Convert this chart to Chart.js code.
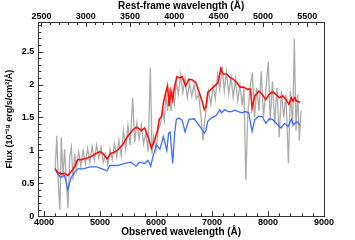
<!DOCTYPE html>
<html>
<head>
<meta charset="utf-8">
<script src="https://cdn.jsdelivr.net/npm/chart.js@4"></script>
<style>
  html, body { margin: 0; padding: 0; background: #fff; }
  #wrap { width: 355px; height: 240px; }
</style>
</head>
<body>
<div id="wrap"><canvas id="specChart"></canvas></div>
<script>
// observed wavelength (A) and flux (1e-18 erg/s/cm2/A)
const redWave = [4201,4243,4305,4366,4426,4488,4548,4590,4609,4671,4762,4854,4945,5005,5066,5128,5188,5250,5311,5402,5494,5585,5645,5706,5737,5797,5859,5919,5980,6029,6060,6102,6133,6162,6206,6236,6267,6298,6334,6376,6420,6468,6528,6590,6651,6711,6773,6833,6864,6894,6925,6985,7047,7108,7157,7199,7259,7321,7382,7442,7504,7565,7625,7687,7716,7766,7839,7899,7961,8022,8082,8144,8204,8265,8327,8374,8418,8448,8479,8509,8570];
const redFlux = [0.72,0.67,0.64,0.65,0.62,0.68,0.75,0.84,0.86,0.86,0.88,0.91,0.96,0.98,0.94,0.87,0.95,0.97,1.00,1.08,1.21,1.31,1.35,1.33,1.30,1.34,1.21,1.03,1.16,1.31,1.47,1.52,1.72,1.83,1.98,1.67,1.90,1.77,1.98,2.12,2.10,2.12,1.98,2.08,2.07,2.03,1.88,1.72,1.62,1.67,1.88,1.93,1.98,2.03,2.24,2.16,2.16,2.11,2.08,2.03,1.96,1.96,1.93,1.93,1.64,1.83,1.90,1.85,1.77,1.85,1.89,1.85,1.80,1.83,1.77,1.70,1.80,1.75,1.80,1.75,1.73];

const blueWave = [4201,4243,4305,4366,4397,4426,4457,4488,4548,4609,4700,4823,4945,5036,5128,5175,5311,5431,5554,5645,5706,5797,5859,5907,5950,6010,6071,6133,6194,6225,6254,6298,6334,6364,6408,6468,6520,6590,6682,6742,6802,6864,6894,6925,6985,7077,7139,7168,7230,7290,7351,7413,7473,7534,7596,7656,7716,7766,7839,7899,7961,8022,8082,8173,8235,8296,8357,8418,8460,8509,8570];
const blueFlux = [0.72,0.64,0.59,0.62,0.52,0.40,0.50,0.59,0.67,0.72,0.72,0.75,0.75,0.72,0.69,0.77,0.77,0.80,0.82,0.76,0.82,0.80,0.85,0.76,0.92,1.08,1.02,1.21,1.00,1.26,1.28,0.80,1.26,1.47,1.49,1.46,1.28,1.47,1.48,1.41,1.34,1.26,1.31,1.44,1.49,1.53,1.62,1.57,1.62,1.59,1.59,1.61,1.59,1.57,1.59,1.57,1.29,1.47,1.52,1.51,1.41,1.48,1.47,1.39,1.34,1.41,1.36,1.47,1.39,1.44,1.39];

const grayWave = [
  4200,4230,4260,4285,4310,4340,4370,4400,4430,4460,
  4490,4520,4550,4580,4620,4660,4700,4740,4780,4820,
  4860,4900,4940,4980,5020,5060,5100,5140,5180,5220,
  5260,5300,5340,5380,5420,5460,5500,5540,5585,5620,
  5660,5700,5740,5780,5820,5860,5900,5930,5960,6000,
  6040,6080,6120,6150,6180,6210,6240,6270,6300,6330,
  6360,6400,6440,6480,6520,6560,6600,6640,6680,6720,
  6760,6800,6840,6870,6900,6940,6980,7020,7060,7100,
  7140,7180,7220,7260,7300,7340,7380,7420,7460,7500,
  7540,7570,7605,7640,7680,7720,7760,7800,7840,7880,
  7920,7960,8005,8040,8080,8120,8160,8200,8240,8280,
  8320,8365,8400,8440,8470,8500,8530,8560,8590];
const grayFlux = [
  0.70,1.22,0.45,0.10,1.20,0.60,1.02,0.55,0.12,0.90,
  1.05,0.55,0.95,0.70,0.98,0.76,1.00,0.80,1.03,0.82,
  1.06,0.85,1.08,0.88,1.05,0.82,0.95,0.78,1.02,0.86,
  1.10,0.90,1.15,0.92,1.30,1.02,1.38,1.08,1.80,1.12,
  1.42,1.18,1.38,1.10,1.28,0.98,2.25,0.95,1.22,1.00,
  1.30,1.40,1.60,1.45,1.85,1.60,1.95,1.60,1.88,1.70,
  2.05,1.85,2.15,1.88,2.10,1.80,2.02,1.82,2.00,1.78,
  1.85,1.55,1.15,1.45,1.65,1.90,1.70,1.98,1.78,2.15,
  1.92,2.28,1.90,2.20,1.85,2.12,1.80,2.08,1.75,2.00,
  1.68,1.95,0.55,1.55,1.95,2.18,1.50,1.95,1.60,2.20,
  1.50,1.90,2.35,1.45,2.05,1.40,1.95,1.20,1.90,1.50,
  1.85,0.80,1.90,1.35,2.70,1.30,1.85,1.15,1.60];

// axis tick labels
const obsTicks = [4000, 5000, 6000, 7000, 8000, 9000];
const restTicks = [2500, 3000, 3500, 4000, 4500, 5000, 5500];
const fluxTicks = [0, 0.5, 1, 1.5, 2, 2.5];

const onePlusZ = 1.582;
const xMin = 3900, xMax = 9000;

const pts = (w, f) => w.map((v, i) => ({x: v, y: f[i]}));
const fixTicks = list => scale => { scale.ticks = list.map(v => ({value: v})); };
const noGrid = { display: false, drawTicks: false };

Chart.defaults.font.family = 'Liberation Sans, Arial, sans-serif';
Chart.defaults.font.size = 9;
Chart.defaults.font.weight = 'bold';
Chart.defaults.color = '#000';

// IDL-style ticks pointing into the plot, plus the frame
const insideTicks = {
  id: 'insideTicks',
  afterDatasetsDraw(chart) {
    const {ctx, chartArea: a, scales} = chart;
    ctx.save();
    ctx.strokeStyle = '#333';
    ctx.lineWidth = 1;
    ctx.strokeRect(Math.round(a.left) + 0.5, Math.round(a.top) + 0.5,
      Math.round(a.right - a.left), Math.round(a.bottom - a.top));
    ctx.beginPath();
    for (let v = 4000; v <= xMax; v += 200) {
      const p = Math.round(scales.x.getPixelForValue(v)) + 0.5;
      const l = v % 1000 === 0 ? 5 : 3;
      ctx.moveTo(p, a.bottom); ctx.lineTo(p, a.bottom - l);
    }
    for (let v = 2500; v <= xMax / onePlusZ; v += 100) {
      const p = Math.round(scales.x2.getPixelForValue(v)) + 0.5;
      const l = v % 500 === 0 ? 5 : 3;
      ctx.moveTo(p, a.top); ctx.lineTo(p, a.top + l);
    }
    for (let k = 0; k <= 29; k++) {
      const p = Math.round(scales.y.getPixelForValue(k / 10)) + 0.5;
      const l = k % 5 === 0 ? 5 : 3;
      ctx.moveTo(a.left, p); ctx.lineTo(a.left + l, p);
    }
    ctx.stroke();
    ctx.restore();
  }
};

new Chart(document.getElementById('specChart'), {
  type: 'line',
  data: {
    datasets: [
      { data: pts(redWave, redFlux), borderColor: '#ff1010', borderWidth: 1.6, pointRadius: 0, tension: 0 },
      { data: pts(blueWave, blueFlux), borderColor: '#3d6eff', borderWidth: 1.3, pointRadius: 0, tension: 0 },
      { data: pts(grayWave, grayFlux), borderColor: 'rgba(150,150,150,0.8)', borderWidth: 1.3, pointRadius: 0, tension: 0 }
    ]
  },
  options: {
    responsive: true,
    maintainAspectRatio: false,
    animation: false,
    layout: { padding: { left: 4, right: 31, top: 0, bottom: 0 } },
    plugins: { legend: { display: false }, tooltip: { enabled: false } },
    scales: {
      x: {
        type: 'linear', position: 'bottom', min: xMin, max: xMax,
        grid: noGrid, border: { display: false },
        afterBuildTicks: fixTicks(obsTicks),
        ticks: { autoSkip: false, padding: 1, maxRotation: 0, callback: v => String(v) },
        title: { display: true, text: 'Observed wavelength (Å)', font: { size: 10, weight: 'bold', lineHeight: 1 }, padding: { top: -2, bottom: 3 } }
      },
      x2: {
        type: 'linear', position: 'top', min: xMin / onePlusZ, max: xMax / onePlusZ,
        grid: noGrid, border: { display: false },
        afterBuildTicks: fixTicks(restTicks),
        ticks: { autoSkip: false, padding: 1, maxRotation: 0, font: { lineHeight: 1 }, callback: v => String(v) },
        title: { display: true, text: 'Rest-frame wavelength (Å)', font: { size: 10, weight: 'bold', lineHeight: 1 }, padding: { top: 1, bottom: 0 } }
      },
      y: {
        min: 0, max: 2.95,
        grid: noGrid, border: { display: false },
        afterBuildTicks: fixTicks(fluxTicks),
        ticks: { autoSkip: false, padding: 4, callback: v => String(v) },
        title: { display: true, text: 'Flux (10⁻¹⁸ erg/s/cm²/Å)', font: { size: 9, weight: 'bold' }, padding: { top: 0, bottom: 3 } }
      }
    }
  },
  plugins: [insideTicks]
});
</script>
</body>
</html>
